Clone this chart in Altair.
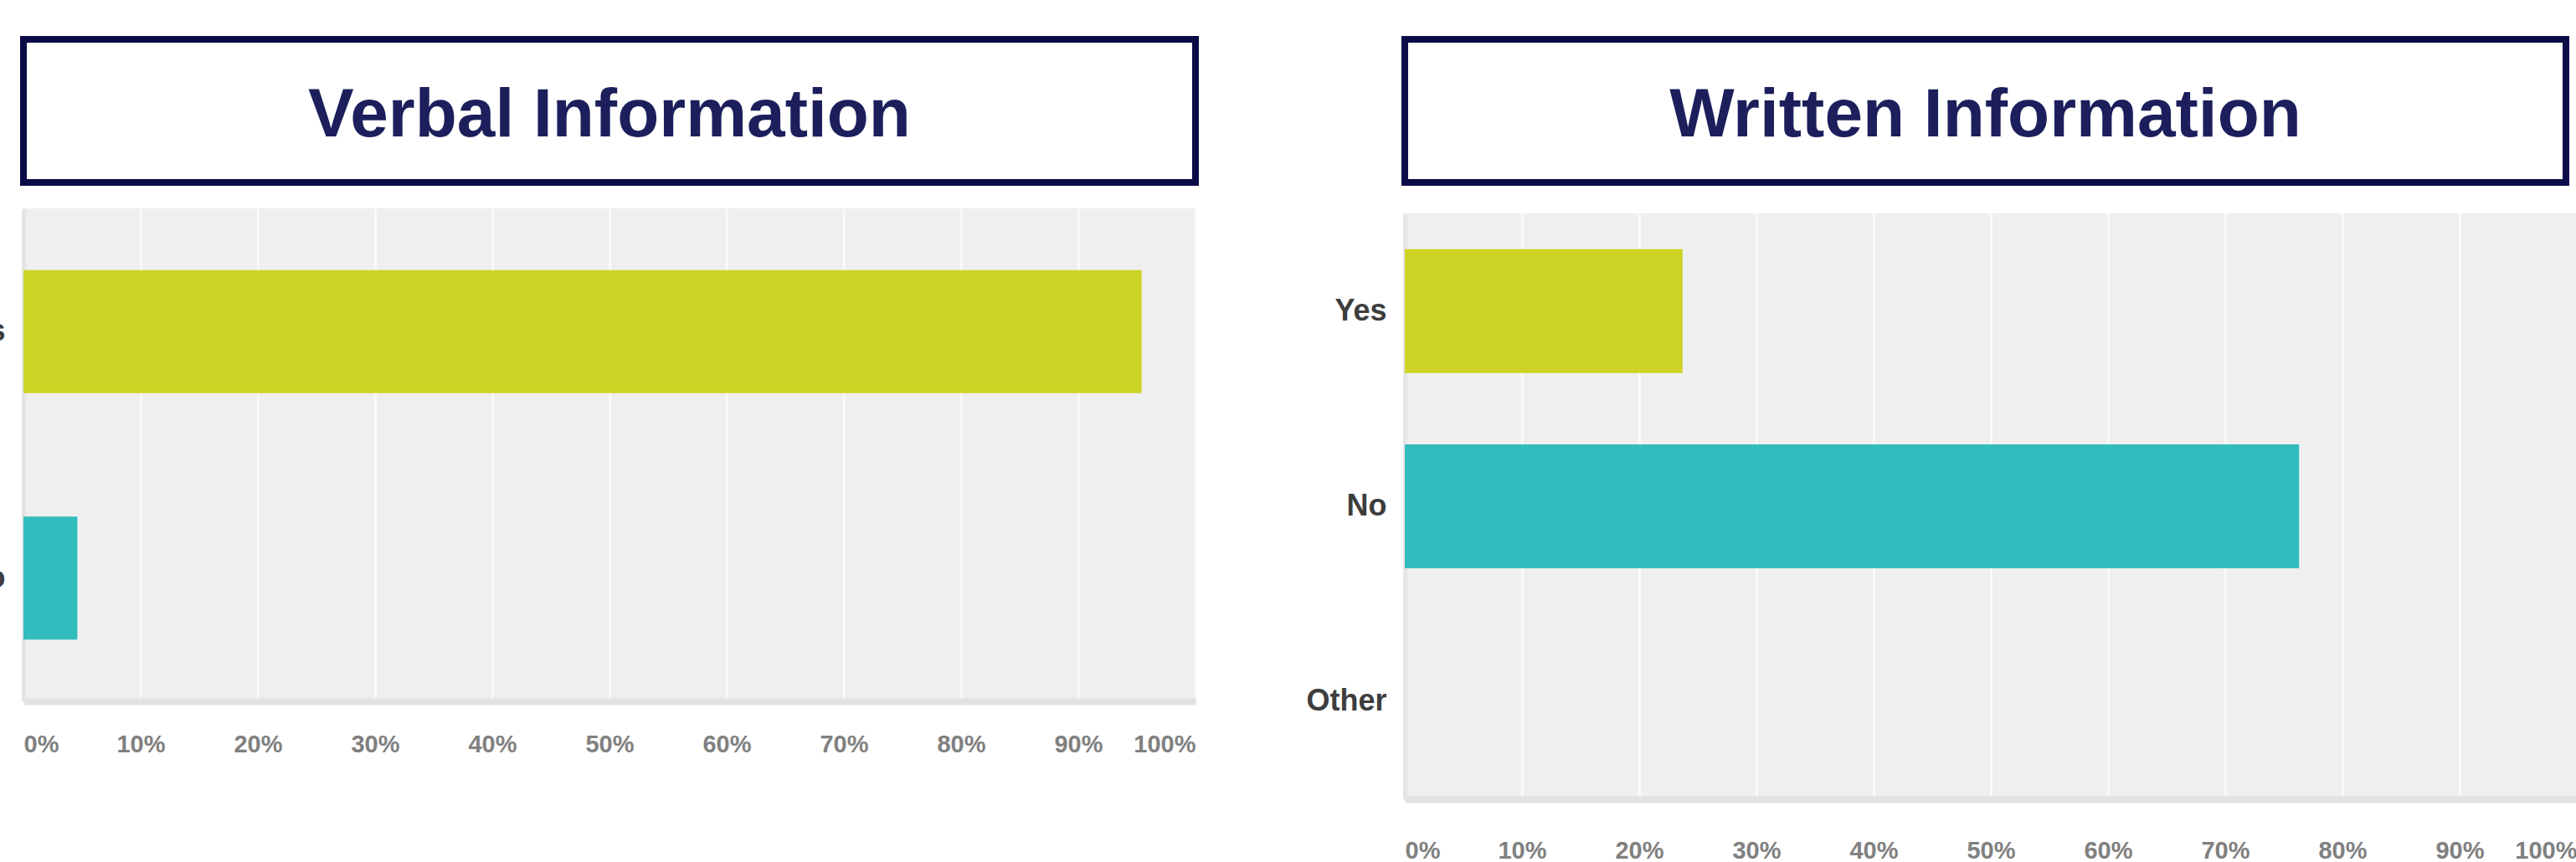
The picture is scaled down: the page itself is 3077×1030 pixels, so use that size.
import altair as alt
import pandas as pd

titles = ["Verbal Information", "Written Information"]
verbal_categories = ["Yes", "No"]
verbal_values = [95.4, 4.6]
written_categories = ["Yes", "No", "Other"]
written_values = [23.7, 76.3, 0.0]
tick_values = [0, 10, 20, 30, 40, 50, 60, 70, 80, 90, 100]
answer_names = ["Yes", "No", "Other"]
answer_colors = ["#cdd324", "#33bcbe", "#9a9a9a"]

FONT = "Liberation Sans"


def title_panel(text, width, height):
    df = pd.DataFrame({"title": [text]})
    return (
        alt.Chart(df)
        .mark_text(font=FONT, fontSize=82, fontWeight="bold", color="#1c1f5c",
                   align="center", baseline="middle", dy=5)
        .encode(text="title:N", x=alt.value(width / 2), y=alt.value(height / 2))
        .properties(width=width, height=height,
                    view=alt.ViewBackground(fill="white", stroke="#0b0b48", strokeWidth=8))
    )


def bar_panel(cats, vals, width, height, bar_size, label_pad):
    df = pd.DataFrame({"answer": cats, "pct": vals})
    return (
        alt.Chart(df)
        .mark_bar(size=bar_size)
        .encode(
            x=alt.X("pct:Q", scale=alt.Scale(domain=[0, 100], nice=False),
                    axis=alt.Axis(values=tick_values, labelExpr="datum.value + '%'", title=None,
                                  grid=True, gridColor="#f9f9f9", gridWidth=3,
                                  ticks=False, tickSize=0, labelFlush=True, labelPadding=label_pad,
                                  labelFontSize=29, labelFontWeight="bold", labelColor="#808080",
                                  labelFont=FONT,
                                  domainColor="#e2e2e2", domainWidth=8)),
            y=alt.Y("answer:N", sort=cats, scale=alt.Scale(domain=cats),
                    axis=alt.Axis(title=None, ticks=False, tickSize=0, grid=False, labelPadding=22,
                                  labelFontSize=36, labelFontWeight="bold", labelColor="#3d3d3d",
                                  labelFont=FONT,
                                  domainColor="#e4e4e4", domainWidth=5)),
            color=alt.Color("answer:N",
                            scale=alt.Scale(domain=answer_names, range=answer_colors),
                            legend=None),
        )
        .properties(width=width, height=height,
                    view=alt.ViewBackground(fill="#efefef", strokeWidth=0))
    )


left = alt.vconcat(
    title_panel(titles[0], 1400, 171),
    bar_panel(verbal_categories, verbal_values, 1400, 589, 147, 37),
    spacing=31, bounds="flush",
)
right = alt.vconcat(
    title_panel(titles[1], 1387, 171),
    bar_panel(written_categories, written_values, 1400, 700, 148, 47),
    spacing=37, bounds="flush",
)

chart = (
    alt.hconcat(left, right, spacing=127)
    .properties(padding={"left": -57, "top": 43, "right": -1, "bottom": -1}, background="white")
    .configure(font=FONT)
)

chart.save("out.html", embed_options={"renderer": "svg", "actions": False})
